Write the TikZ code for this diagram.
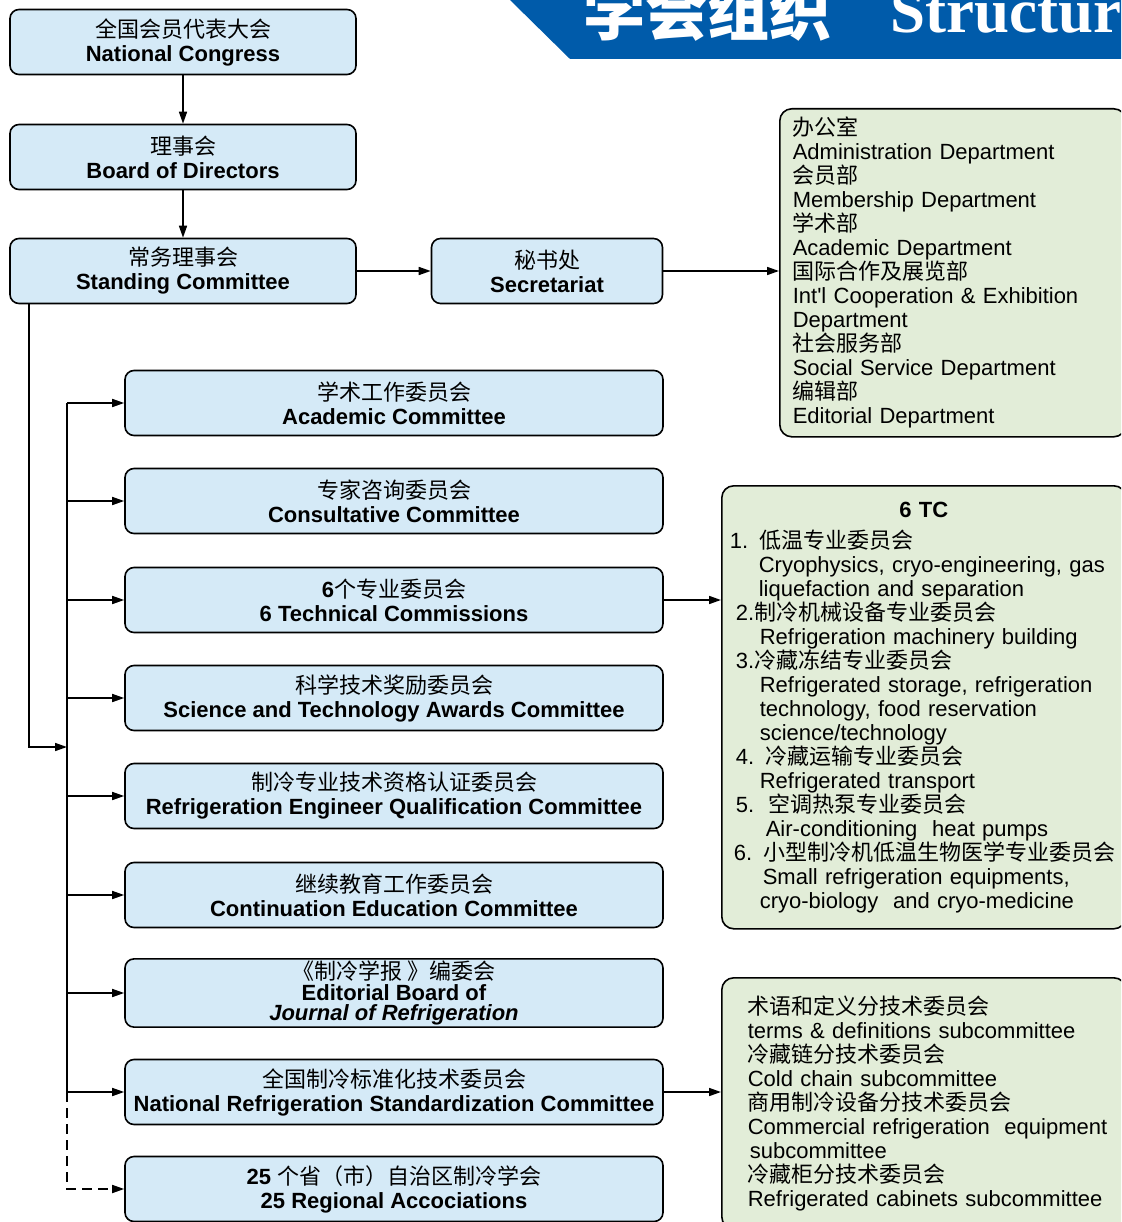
\documentclass[tikz,border=0pt]{standalone}
\usepackage{fontspec}
\setmainfont{Liberation Sans}
\newfontfamily\cjk{Noto Sans CJK SC}
\newfontfamily\titleserif{Liberation Serif}
\usetikzlibrary{arrows.meta}

\definecolor{boxblue}{HTML}{D5EAF7}
\definecolor{boxgreen}{HTML}{E2EDD8}
\definecolor{bannerblue}{HTML}{005BAA}

\newcommand\indt[1]{\hspace*{#1pt}}

\tikzset{
  unit/.style={draw, rounded corners=9pt, fill=boxblue, line width=1.6pt,
    minimum width=346pt, minimum height=65pt, inner sep=2pt, align=center,
    font=\fontsize{22}{24}\selectfont},
  committee/.style={unit, minimum width=538pt},
  listbox/.style={draw, rounded corners=12pt, fill=boxgreen, line width=1.6pt,
    anchor=north west, align=left, inner xsep=8pt, inner ysep=2pt, text width=388pt,
    font=\fontsize{22}{24}\selectfont},
  link/.style={-{Triangle[length=12pt,width=8pt]}, line width=1.6pt},
}

\begin{document}
\begin{tikzpicture}[x=1pt,y=-1pt]
\useasboundingbox (0,0) rectangle (1121,1222);
\clip (0,0) rectangle (1121,1222);

% title banner
\fill[bannerblue] (510,0) -- (1130,0) -- (1130,59) -- (570,59) -- cycle;
\node[anchor=base west, text=white, inner sep=0pt, font=\cjk\bfseries\fontsize{62}{62}\selectfont] at (583,36) (title) {学会组织};
\node[anchor=base west, text=white, inner sep=0pt, font=\titleserif\bfseries\fontsize{63}{63}\selectfont] at (890,33) (titleen) {Structur};

% congress, board, standing committee, secretariat
\node[unit] at (183, 42) (congress) {{\cjk 全国会员代表大会}\\\textbf{National Congress}};
\node[unit] at (183,157) (board) {{\cjk 理事会}\\\textbf{Board of Directors}};
\node[unit] at (183,271) (standing) {{\cjk 常务理事会}\\\textbf{Standing Committee}};
\node[unit, minimum width=231pt] at (547,271) (secretariat) {{\cjk 秘书处}\\\textbf{Secretariat}};

% departments of the secretariat
\node[listbox, inner xsep=13pt, text width=320pt, minimum height=328pt] at (779,108) (offices) {%
{\cjk 办公室}\\
Administration Department\\
{\cjk 会员部}\\
Membership Department\\
{\cjk 学术部}\\
Academic Department\\
{\cjk 国际合作及展览部}\\
Int\textquotesingle l Cooperation \& Exhibition\\
Department\\
{\cjk 社会服务部}\\
Social Service Department\\
{\cjk 编辑部}\\
Editorial Department};

% committees
\node[committee] at (394, 403) (academic) {{\cjk 学术工作委员会}\\\textbf{Academic Committee}};
\node[committee] at (394, 501) (consult) {{\cjk 专家咨询委员会}\\\textbf{Consultative Committee}};
\node[committee] at (394, 600) (techcom) {\textbf{6}{\cjk 个专业委员会}\\\textbf{6 Technical Commissions}};
\node[committee] at (394, 698) (awards) {{\cjk 科学技术奖励委员会}\\\textbf{Science and Technology Awards Committee}};
\node[committee] at (394, 796) (qualif) {{\cjk 制冷专业技术资格认证委员会}\\\textbf{Refrigeration Engineer Qualification Committee}};
\node[committee] at (394, 895) (educ) {{\cjk 继续教育工作委员会}\\\textbf{Continuation Education Committee}};
\node[committee, font=\fontsize{22}{20.5}\selectfont] at (394, 993) (journal) {{\cjk 《制冷学报 》编委会}\\\textbf{Editorial Board of}\\\textbf{\textit{Journal of Refrigeration}}};
\node[committee] at (394,1092) (standard) {{\cjk 全国制冷标准化技术委员会}\\\textbf{National Refrigeration Standardization Committee}};
\node[committee] at (394,1189) (regional) {\textbf{25} {\cjk 个省（市）自治区制冷学会}\\\textbf{25 Regional Accociations}};

% the 6 technical commissions
\node[listbox, minimum height=443pt] at (721,485) (tclist) {%
\makebox[\linewidth][c]{\textbf{6 TC}}\\[7pt]
1. {\cjk 低温专业委员会}\\
\indt{29}Cryophysics, cryo-engineering, gas\\
\indt{29}liquefaction and separation\\
\indt{6}2.{\cjk 制冷机械设备专业委员会}\\
\indt{30}Refrigeration machinery building\\
\indt{6}3.{\cjk 冷藏冻结专业委员会}\\
\indt{30}Refrigerated storage, refrigeration\\
\indt{30}technology, food reservation\\
\indt{30}science/technology\\
\indt{6}4. {\cjk 冷藏运输专业委员会}\\
\indt{30}Refrigerated transport\\
\indt{6}5.\ \ {\cjk 空调热泵专业委员会}\\
\indt{36}Air-conditioning\ \ heat pumps\\
\indt{4}6. {\cjk 小型制冷机低温生物医学专业委员会}\\
\indt{33}Small refrigeration equipments,\\
\indt{30}cryo-biology\ \ and cryo-medicine};

% standardization subcommittees
\node[listbox, minimum height=251pt] at (721,977) (sublist) {%
\indt{18}{\cjk 术语和定义分技术委员会}\\
\indt{18}terms \& definitions subcommittee\\
\indt{18}{\cjk 冷藏链分技术委员会}\\
\indt{18}Cold chain subcommittee\\
\indt{18}{\cjk 商用制冷设备分技术委员会}\\
\indt{18}Commercial refrigeration\ \ equipment\\
\indt{20}subcommittee\\
\indt{18}{\cjk 冷藏柜分技术委员会}\\
\indt{18}Refrigerated cabinets subcommittee};

% connectors
\draw[link] (congress) -- (board);
\draw[link] (board) -- (standing);
\draw[link] (standing) -- (secretariat);
\draw[link] (secretariat.east) -- (secretariat.east -| offices.west);
\draw[link] (techcom.east) -- (techcom.east -| tclist.west);
\draw[link] (standard.east) -- (standard.east -| sublist.west);

% branch line to the committees
\coordinate (bus) at (67,747);
\draw[link] ([xshift=20pt]standing.south west) |- (bus);
\draw[line width=1.6pt] (academic.west -| bus) -- (standard.west -| bus);
\foreach \c in {academic,consult,techcom,awards,qualif,educ,journal,standard}
  \draw[link] (\c.west -| bus) -- (\c.west);
\draw[link, dash pattern=on 10pt off 6pt] (standard.west -| bus) |- (regional.west);

\end{tikzpicture}
\end{document}
